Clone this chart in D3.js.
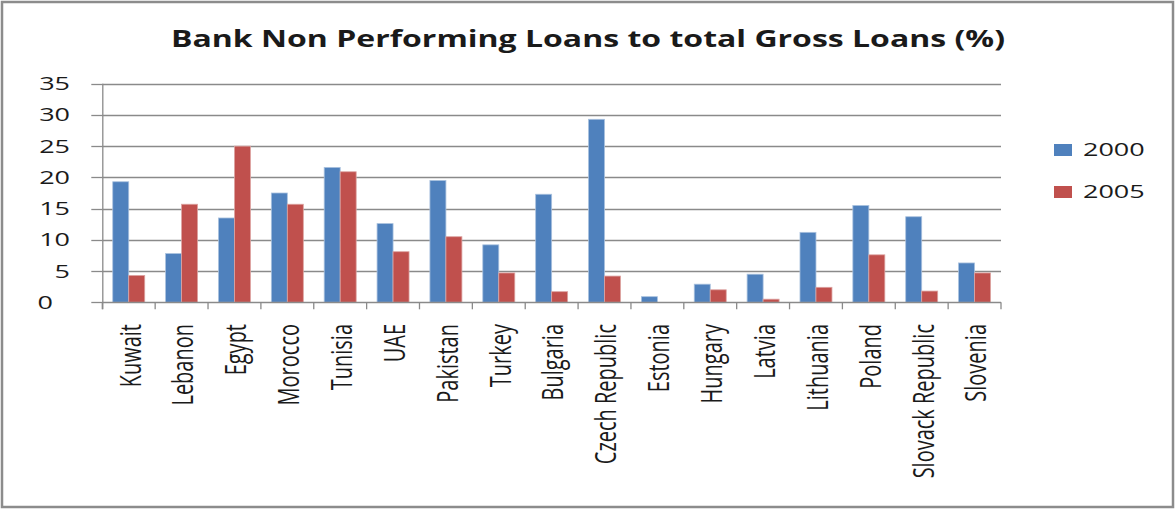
<!DOCTYPE html>
<html>
<head>
<meta charset="utf-8">
<script src="https://cdn.jsdelivr.net/npm/d3@7/dist/d3.min.js"></script>
<style>
  html, body { margin: 0; padding: 0; background: #fff; }
  svg { display: block; }
  text { font-family: "Open Sans", "DejaVu Sans", sans-serif; fill: #1a1a1a; }
</style>
</head>
<body>
<script>
const categories = ["Kuwait","Lebanon","Egypt","Morocco","Tunisia","UAE","Pakistan","Turkey","Bulgaria","Czech Republic","Estonia","Hungary","Latvia","Lithuania","Poland","Slovack Republic","Slovenia"];
const seriesNames = ["2000","2005"];
const values2000 = [19.3, 7.8, 13.5, 17.5, 21.6, 12.6, 19.5, 9.2, 17.3, 29.3, 0.9, 2.9, 4.5, 11.2, 15.5, 13.7, 6.3];
const values2005 = [4.3, 15.7, 25.0, 15.7, 20.9, 8.1, 10.5, 4.7, 1.7, 4.2, 0.0, 2.0, 0.5, 2.4, 7.6, 1.8, 4.7];
const yTicks = [0, 5, 10, 15, 20, 25, 30, 35];
const title = "Bank Non Performing Loans to total Gross Loans (%)";
const colors = ["#4F81BD", "#C0504D"];

const W = 1176, H = 509;
const svg = d3.select("body").append("svg").attr("width", W).attr("height", H);

// outer frame
svg.append("rect").attr("x", 2).attr("y", 2).attr("width", 1171).attr("height", 505)
  .attr("fill", "#fff").attr("stroke", "#8c8c8c").attr("stroke-width", 2.5);

const plotL = 102.3, plotR = 1001, plotT = 83.7, plotB = 302.3;
const SX = 1.5; // horizontal text stretch seen in the reference

const x = d3.scaleBand().domain(categories).range([plotL, plotR]).paddingInner(0).paddingOuter(0);
const xs = d3.scaleBand().domain(seriesNames).range([0, x.bandwidth()]).paddingInner(0).paddingOuter(0.653);
const y = d3.scaleLinear().domain([0, 35]).range([plotB, plotT]);

// gridlines
svg.append("g").selectAll("line").data(yTicks.filter(d => d > 0)).join("line")
  .attr("x1", plotL).attr("x2", plotR)
  .attr("y1", d => Math.round(y(d)) + 0.5).attr("y2", d => Math.round(y(d)) + 0.5)
  .attr("stroke", "#8a8a8a").attr("stroke-width", 1.3);

// y tick marks
svg.append("g").selectAll("line").data(yTicks).join("line")
  .attr("x1", plotL - 11).attr("x2", plotL)
  .attr("y1", d => Math.round(y(d)) + 0.5).attr("y2", d => Math.round(y(d)) + 0.5)
  .attr("stroke", "#8a8a8a").attr("stroke-width", 1.3);

// bars
const data = categories.map((c, i) => ({ c, vals: [values2000[i], values2005[i]] }));
const groups = svg.append("g").selectAll("g").data(data).join("g")
  .attr("transform", d => `translate(${x(d.c)},0)`);
groups.selectAll("rect").data(d => d.vals.map((v, k) => ({ v, k }))).join("rect")
  .attr("x", d => xs(seriesNames[d.k]))
  .attr("width", xs.bandwidth())
  .attr("y", d => y(d.v))
  .attr("height", d => y(0) - y(d.v))
  .attr("fill", d => colors[d.k])
  .attr("stroke", d => d.k === 0 ? "#a9c1de" : "#dca3a1")
  .attr("stroke-width", d => d.v > 0 ? 0.8 : 0);

// axes lines
svg.append("line").attr("x1", plotL + 0.5).attr("x2", plotL + 0.5).attr("y1", plotT).attr("y2", plotB + 7)
  .attr("stroke", "#8a8a8a").attr("stroke-width", 1.3);
svg.append("line").attr("x1", plotL).attr("x2", plotR).attr("y1", Math.round(plotB) + 0.5).attr("y2", Math.round(plotB) + 0.5)
  .attr("stroke", "#8a8a8a").attr("stroke-width", 1.3);
// x tick marks at category boundaries
const bounds = categories.map(c => x(c)).concat([plotR]);
svg.append("g").selectAll("line").data(bounds).join("line")
  .attr("x1", d => d).attr("x2", d => d)
  .attr("y1", plotB).attr("y2", plotB + 7)
  .attr("stroke", "#8a8a8a").attr("stroke-width", 1.3);

// y tick labels
svg.append("g").selectAll("text").data(yTicks).join("text")
  .attr("transform", d => `translate(${d === 0 ? 53 : 70},${y(d)}) scale(${SX},1)`)
  .attr("text-anchor", "end").attr("dy", "0.36em")
  .style("font-size", "18px")
  .text(d => d);

// x labels (rotated)
svg.append("g").selectAll("text").data(categories).join("text")
  .attr("transform", d => `translate(${x(d) + x.bandwidth() / 2 + 1},324) scale(${SX},1) rotate(-90)`)
  .attr("text-anchor", "end").attr("dy", "0.36em")
  .style("font-size", "20px")
  .text(d => d);

// title
svg.append("text").attr("x", 588).attr("y", 47)
  .attr("text-anchor", "middle")
  .attr("textLength", 834).attr("lengthAdjust", "spacingAndGlyphs")
  .style("font-size", "23px").style("font-weight", "bold")
  .text(title);

// legend
const legend = svg.append("g").selectAll("g").data(seriesNames).join("g")
  .attr("transform", (d, i) => `translate(1054,${i === 0 ? 150 : 192})`);
legend.append("rect").attr("x", 0).attr("y", -6).attr("width", 18).attr("height", 12)
  .attr("fill", (d, i) => colors[i]);
legend.append("text")
  .attr("transform", `translate(29,0) scale(${SX},1)`)
  .attr("dy", "0.36em").style("font-size", "18px")
  .text(d => d);
</script>
</body>
</html>
